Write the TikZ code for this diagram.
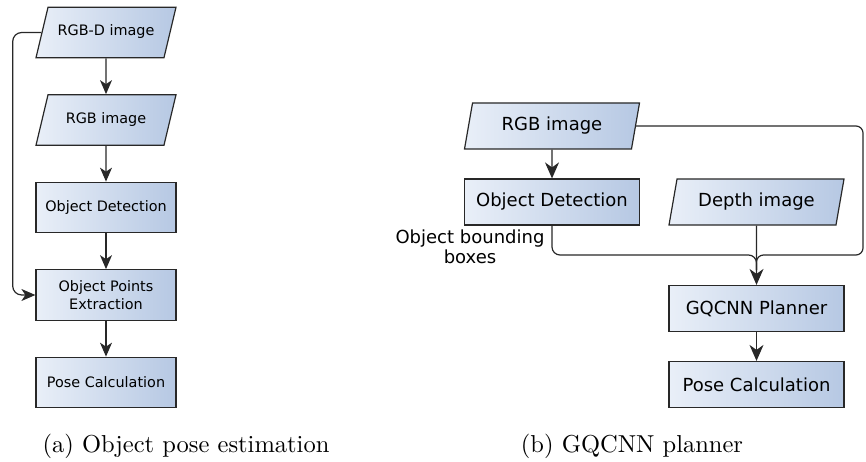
\documentclass[tikz,border=0pt]{standalone}
\usepackage{fontspec}
\newfontfamily\boxfont{DejaVu Sans}
\newfontfamily\capfont{lmroman10-regular.otf}
\usetikzlibrary{shapes.geometric,arrows.meta}
\definecolor{boxlight}{RGB}{233,239,248}
\definecolor{boxdark}{RGB}{182,200,227}
\definecolor{edge}{RGB}{40,40,40}
\tikzset{
  base/.style={draw=edge, line width=1.2pt, left color=boxlight, right color=boxdark,
    text=black, inner sep=0pt, align=center},
  fontL/.style={font=\boxfont\fontsize{14.4}{17.5}\selectfont},
  fontR/.style={font=\boxfont\fontsize{18}{20.5}\selectfont},
  procL/.style={base, fontL, rectangle, minimum width=140pt, minimum height=50.5pt},
  dataL/.style={base, fontL, trapezium, trapezium left angle=76.6, trapezium right angle=103.4,
    text height=10.5pt, text depth=3.5pt, inner ysep=18.25pt,
    trapezium stretches body=true, minimum width=140pt},
  procR/.style={base, fontR, rectangle, minimum width=175pt, minimum height=46pt},
  dataR/.style={base, fontR, trapezium, trapezium left angle=80.1, trapezium right angle=99.9,
    text height=13pt, text depth=4.5pt, inner ysep=14.25pt,
    trapezium stretches body=true, minimum width=175pt},
  wire/.style={draw=edge, line width=1.2pt},
  flowL/.style={wire, -{Stealth[length=14pt, width=12pt, inset=4pt]}},
  flowR/.style={wire, -{Stealth[length=16pt, width=14pt, inset=5pt]}},
  caption/.style={font=\capfont\fontsize{24.5}{29}\selectfont, anchor=base},
}
\begin{document}
\begin{tikzpicture}[x=1pt, y=-1pt]
\useasboundingbox (0,0) rectangle (866,462);

% (a) object pose estimation
\node[dataL] (rgbd)  at (106,32.5)  {RGB-D image};
\node[dataL] (rgbL)  at (106,120)   {RGB image};
\node[procL] (odL)   at (106,207.5) {Object Detection};
\node[procL] (ope)   at (106,295)   {Object Points\\Extraction};
\node[procL] (poseL) at (106,382.5) {Pose Calculation};

\draw[flowL] (rgbd) -- (rgbL);
\draw[flowL] (rgbL) -- (odL);
\draw[flowL] (odL) -- (ope);
\draw[flowL] (ope) -- (poseL);
\coordinate (loopL) at (12.7,0);
\draw[flowL, rounded corners=9pt] (rgbd.west) -| (loopL |- ope.west) -- (ope.west);

% (b) GQCNN planner
\node[dataR] (rgbR)  at (552,126)   {RGB image};
\node[procR] (odR)   at (552,202)   {Object Detection};
\node[dataR] (depth) at (756.5,202) {Depth image};
\node[procR] (gq)    at (756.5,308.5) {GQCNN Planner};
\node[procR] (poseR) at (756.5,384.5) {Pose Calculation};

\node[fontR, align=center] (bblabel) at (470,247) {Object bounding\\boxes};

\draw[flowR] (rgbR) -- (odR);
\coordinate (join) at (756.5,255);
\coordinate (joinlow) at (756.5,270);
\coordinate (loopR) at (863,0);
\draw[wire, rounded corners=8pt] (odR.south) |- (join) -- (joinlow);
\draw[wire, rounded corners=7pt] (rgbR.east) -- (loopR |- rgbR.east) |- (join) -- (joinlow);
\draw[flowR] (depth) -- (gq);
\draw[flowR] (gq) -- (poseR);

% captions
\node[caption] (capa) at (186,452) {(a) Object pose estimation};
\node[caption] (capb) at (632,452) {(b) GQCNN planner};
\end{tikzpicture}
\end{document}
